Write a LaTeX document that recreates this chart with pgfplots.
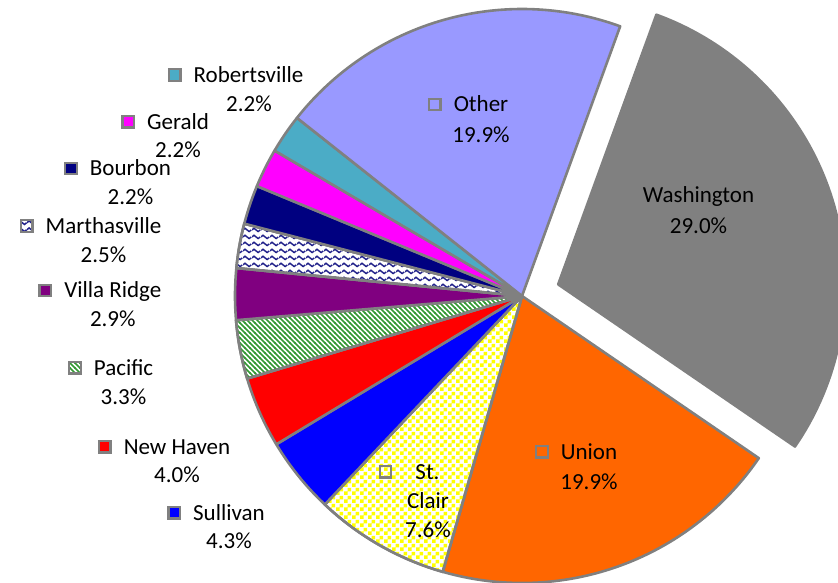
\documentclass[border=0pt]{standalone}
\usepackage{pgfplots}
\pgfplotsset{compat=1.18}
\usepackage{fontspec}
\setmainfont{Carlito}
\usetikzlibrary{patterns}

\definecolor{bordergray}{HTML}{808080}
\definecolor{washgray}{HTML}{808080}
\definecolor{unionorange}{HTML}{FF6600}
\definecolor{stclairyellow}{HTML}{FFFF00}
\definecolor{sullivanblue}{HTML}{0000FF}
\definecolor{newhavenred}{HTML}{FF0000}
\definecolor{pacificgreen}{HTML}{339933}
\definecolor{villapurple}{HTML}{800080}
\definecolor{marthanavy}{HTML}{22228A}
\definecolor{bourbonnavy}{HTML}{000080}
\definecolor{geraldmagenta}{HTML}{FF00FF}
\definecolor{robteal}{HTML}{4BACC6}
\definecolor{otherlav}{HTML}{9999FF}

\pgfdeclarepatternformonly{checkerbig}{\pgfqpoint{0bp}{0bp}}{\pgfqpoint{8bp}{8bp}}{\pgfqpoint{8bp}{8bp}}{%
  \pgfpathrectangle{\pgfqpoint{0bp}{0bp}}{\pgfqpoint{4bp}{4bp}}%
  \pgfpathrectangle{\pgfqpoint{4bp}{4bp}}{\pgfqpoint{4bp}{4bp}}%
  \pgfusepath{fill}}
\pgfdeclarepatternformonly{diagstripes}{\pgfqpoint{-1bp}{-1bp}}{\pgfqpoint{6bp}{6bp}}{\pgfqpoint{5bp}{5bp}}{%
  \pgfsetlinewidth{1.7bp}%
  \pgfpathmoveto{\pgfqpoint{-0.5bp}{5.5bp}}\pgfpathlineto{\pgfqpoint{5.5bp}{-0.5bp}}%
  \pgfusepath{stroke}}
\pgfdeclarepatternformonly{wavy}{\pgfqpoint{0bp}{0bp}}{\pgfqpoint{9bp}{7bp}}{\pgfqpoint{9bp}{7bp}}{%
  \pgfsetlinewidth{1.6bp}%
  \pgfpathmoveto{\pgfqpoint{-0.1bp}{3.5bp}}%
  \pgfpathcurveto{\pgfqpoint{1.5bp}{6.0bp}}{\pgfqpoint{3bp}{6.0bp}}{\pgfqpoint{4.5bp}{3.5bp}}%
  \pgfpathcurveto{\pgfqpoint{6bp}{1.0bp}}{\pgfqpoint{7.5bp}{1.0bp}}{\pgfqpoint{9.1bp}{3.5bp}}%
  \pgfusepath{stroke}}

% data: shares in percent, clockwise from Washington
\def\vWashington{29.0}
\def\vUnion{19.9}
\def\vStClair{7.6}
\def\vSullivan{4.3}
\def\vNewHaven{4.0}
\def\vPacific{3.3}
\def\vVillaRidge{2.9}
\def\vMarthasville{2.5}
\def\vBourbon{2.2}
\def\vGerald{2.2}
\def\vRobertsville{2.2}
\def\vOther{19.9}

\def\cx{522}\def\cy{296}\def\R{287}

% legend-key squares of the data labels
\newcommand{\keybox}[1]{\raisebox{2.65bp}{\fboxrule=2.3bp\fboxsep=0pt\textcolor{bordergray}{\fbox{\colorbox{#1}{\rule{0pt}{9.2bp}\rule{9.2bp}{0pt}}}}}}
\newcommand{\keyempty}{\raisebox{2.65bp}{\fboxrule=2.3bp\fboxsep=0pt\textcolor{bordergray}{\fbox{\rule{0pt}{9.2bp}\rule{9.2bp}{0pt}}}}}
\newcommand{\keypat}[1]{\tikz[baseline=-1.5bp]\draw[line width=2.3bp, draw=bordergray, preaction={fill=white}, #1] (0,0) rectangle (11.5bp,11.5bp);}

\begin{document}%
\begin{tikzpicture}[trim left=0bp, trim right=838bp,
  every node/.style={font=\fontsize{23bp}{29bp}\selectfont, text=black, inner sep=0pt}]
\pgfmathsetmacro{\angA}{70}
\pgfmathsetmacro{\angB}{\angA-3.6*\vWashington}
\pgfmathsetmacro{\angC}{\angB-3.6*\vUnion}
\pgfmathsetmacro{\angD}{\angC-3.6*\vStClair}
\pgfmathsetmacro{\angE}{\angD-3.6*\vSullivan}
\pgfmathsetmacro{\angF}{\angE-3.6*\vNewHaven}
\pgfmathsetmacro{\angG}{\angF-3.6*\vPacific}
\pgfmathsetmacro{\angH}{\angG-3.6*\vVillaRidge}
\pgfmathsetmacro{\angI}{\angH-3.6*\vMarthasville}
\pgfmathsetmacro{\angJ}{\angI-3.6*\vBourbon}
\pgfmathsetmacro{\angK}{\angJ-3.6*\vGerald}
\pgfmathsetmacro{\angL}{\angK-3.6*\vRobertsville}
\pgfmathsetmacro{\angM}{\angL-3.6*\vOther}
\pgfmathsetmacro{\bis}{(\angA+\angB)/2}
\pgfmathsetmacro{\wx}{\cx+38*cos(\bis)}
\pgfmathsetmacro{\wy}{\cy-38*sin(\bis)}
\begin{axis}[width=838bp, height=583bp, scale only axis,
  xmin=0, xmax=838, ymin=0, ymax=583, y dir=reverse,
  hide axis, clip=true, no markers, samples=80,
  every axis plot/.append style={draw=bordergray, line width=2.6bp, line join=round}]

% invisible frame so that the picture spans the whole canvas
\addplot[draw=none, line width=0pt] coordinates {(0,0) (838,583)};

% Washington (exploded)
\addplot[fill=washgray, domain=\angB:\angA, variable=\t]
  ({\wx+\R*cos(\t)}, {\wy-\R*sin(\t)}) -- (axis cs:\wx,\wy) -- cycle;
% Union
\addplot[fill=unionorange, domain=\angC:\angB, variable=\t]
  ({\cx+\R*cos(\t)}, {\cy-\R*sin(\t)}) -- (axis cs:\cx,\cy) -- cycle;
% St. Clair
\addplot[preaction={fill=white}, pattern=checkerbig, pattern color=stclairyellow, domain=\angD:\angC, variable=\t]
  ({\cx+\R*cos(\t)}, {\cy-\R*sin(\t)}) -- (axis cs:\cx,\cy) -- cycle;
% Sullivan
\addplot[fill=sullivanblue, domain=\angE:\angD, variable=\t]
  ({\cx+\R*cos(\t)}, {\cy-\R*sin(\t)}) -- (axis cs:\cx,\cy) -- cycle;
% New Haven
\addplot[fill=newhavenred, domain=\angF:\angE, variable=\t]
  ({\cx+\R*cos(\t)}, {\cy-\R*sin(\t)}) -- (axis cs:\cx,\cy) -- cycle;
% Pacific
\addplot[preaction={fill=white}, pattern=diagstripes, pattern color=pacificgreen, domain=\angG:\angF, variable=\t]
  ({\cx+\R*cos(\t)}, {\cy-\R*sin(\t)}) -- (axis cs:\cx,\cy) -- cycle;
% Villa Ridge
\addplot[fill=villapurple, domain=\angH:\angG, variable=\t]
  ({\cx+\R*cos(\t)}, {\cy-\R*sin(\t)}) -- (axis cs:\cx,\cy) -- cycle;
% Marthasville
\addplot[preaction={fill=white}, pattern=wavy, pattern color=marthanavy, domain=\angI:\angH, variable=\t]
  ({\cx+\R*cos(\t)}, {\cy-\R*sin(\t)}) -- (axis cs:\cx,\cy) -- cycle;
% Bourbon
\addplot[fill=bourbonnavy, domain=\angJ:\angI, variable=\t]
  ({\cx+\R*cos(\t)}, {\cy-\R*sin(\t)}) -- (axis cs:\cx,\cy) -- cycle;
% Gerald
\addplot[fill=geraldmagenta, domain=\angK:\angJ, variable=\t]
  ({\cx+\R*cos(\t)}, {\cy-\R*sin(\t)}) -- (axis cs:\cx,\cy) -- cycle;
% Robertsville
\addplot[fill=robteal, domain=\angL:\angK, variable=\t]
  ({\cx+\R*cos(\t)}, {\cy-\R*sin(\t)}) -- (axis cs:\cx,\cy) -- cycle;
% Other
\addplot[fill=otherlav, domain=\angM:\angL, variable=\t]
  ({\cx+\R*cos(\t)}, {\cy-\R*sin(\t)}) -- (axis cs:\cx,\cy) -- cycle;

% data labels
\node[anchor=base] at (axis cs:248.5,82.3) {\llap{\keybox{robteal}\hspace{12bp}}Robertsville};
\node[anchor=base] at (axis cs:249,111.5) {2.2\%};
\node[anchor=base] at (axis cs:178,129) {\llap{\keybox{geraldmagenta}\hspace{12bp}}Gerald};
\node[anchor=base] at (axis cs:178,157.5) {2.2\%};
\node[anchor=base] at (axis cs:130.5,175.7) {\llap{\keybox{bourbonnavy}\hspace{12bp}}Bourbon};
\node[anchor=base] at (axis cs:130.5,204.3) {2.2\%};
\node[anchor=base] at (axis cs:103.5,233.3) {\llap{\keypat{pattern=wavy, pattern color=marthanavy}\hspace{12bp}}Marthasville};
\node[anchor=base] at (axis cs:103.5,262.3) {2.5\%};
\node[anchor=base] at (axis cs:112.8,297.7) {\llap{\keybox{villapurple}\hspace{12bp}}Villa Ridge};
\node[anchor=base] at (axis cs:112.8,326.7) {2.9\%};
\node[anchor=base] at (axis cs:123.5,375) {\llap{\keypat{pattern=diagstripes, pattern color=pacificgreen}\hspace{12bp}}Pacific};
\node[anchor=base] at (axis cs:123.5,404) {3.3\%};
\node[anchor=base] at (axis cs:177,454) {\llap{\keybox{newhavenred}\hspace{12bp}}New Haven};
\node[anchor=base] at (axis cs:177,482.7) {4.0\%};
\node[anchor=base] at (axis cs:229,520) {\llap{\keybox{sullivanblue}\hspace{12bp}}Sullivan};
\node[anchor=base] at (axis cs:229,548.3) {4.3\%};
\node[anchor=base] at (axis cs:427.5,479) {\llap{\keyempty\hspace{23bp}}St.};
\node[anchor=base] at (axis cs:428,508.3) {Clair};
\node[anchor=base] at (axis cs:428,537.7) {7.6\%};
\node[anchor=base] at (axis cs:589,459) {\llap{\keyempty\hspace{12bp}}Union};
\node[anchor=base] at (axis cs:589,489) {19.9\%};
\node[anchor=base] at (axis cs:481,111.7) {\llap{\keyempty\hspace{12bp}}Other};
\node[anchor=base] at (axis cs:481,142.3) {19.9\%};
\node[anchor=base] at (axis cs:698.5,202.3) {Washington};
\node[anchor=base] at (axis cs:698.5,233.3) {29.0\%};
\end{axis}
\end{tikzpicture}%
\end{document}
